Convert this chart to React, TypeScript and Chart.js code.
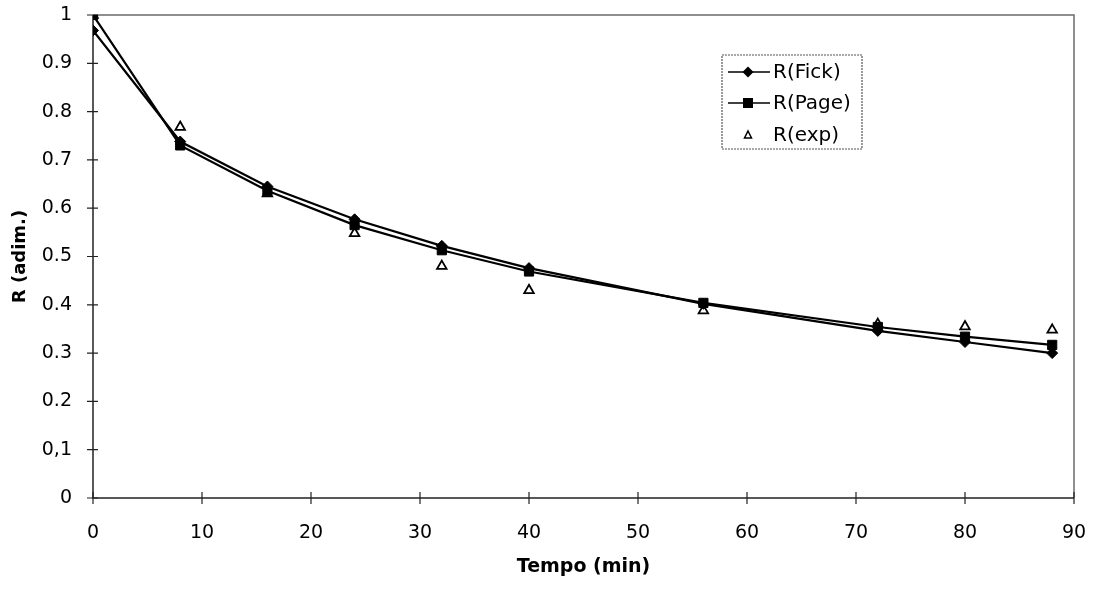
import React, { useEffect, useRef } from 'react';
import { Chart, registerables } from 'chart.js';

Chart.register(...registerables);

// ---- data ----
const timeMin = [0, 8, 16, 24, 32, 40, 56, 72, 80, 88];
const rFick = [0.968, 0.738, 0.645, 0.577, 0.522, 0.476, 0.402, 0.346, 0.323, 0.3];
const rPage = [1.0, 0.73, 0.636, 0.565, 0.513, 0.469, 0.404, 0.354, 0.334, 0.317];
const rExp = [1.0, 0.768, 0.63, 0.548, 0.48, 0.43, 0.388, 0.36, 0.355, 0.348];

const xTickValues = [0, 10, 20, 30, 40, 50, 60, 70, 80, 90];
const yTickValues = [0, 0.1, 0.2, 0.3, 0.4, 0.5, 0.6, 0.7, 0.8, 0.9, 1];
const yTickLabels = ['0', '0,1', '0.2', '0.3', '0.4', '0.5', '0.6', '0.7', '0.8', '0.9', '1'];
const seriesLabels = ['R(Fick)', 'R(Page)', 'R(exp)'];
const xTitle = 'Tempo (min)';
const yTitle = 'R (adim.)';

const FONT = '"DejaVu Sans", "Liberation Sans", sans-serif';

const toPoints = (ys: number[]) => timeMin.map((x, i) => ({ x, y: ys[i] }));

function drawMarker(ctx: CanvasRenderingContext2D, style: string, x: number, y: number) {
  ctx.save();
  ctx.fillStyle = '#000';
  ctx.strokeStyle = '#000';
  ctx.lineWidth = 1.5;
  ctx.beginPath();
  if (style === 'rectRot') {
    ctx.moveTo(x, y - 5.5);
    ctx.lineTo(x + 5.5, y);
    ctx.lineTo(x, y + 5.5);
    ctx.lineTo(x - 5.5, y);
    ctx.closePath();
    ctx.fill();
  } else if (style === 'rect') {
    ctx.rect(x - 5, y - 5, 10, 10);
    ctx.fill();
  } else {
    ctx.moveTo(x, y - 4);
    ctx.lineTo(x + 3.5, y + 3);
    ctx.lineTo(x - 3.5, y + 3);
    ctx.closePath();
    ctx.fillStyle = '#fff';
    ctx.fill();
    ctx.stroke();
  }
  ctx.restore();
}

const framePlugin = {
  id: 'frame',
  beforeDatasetsDraw(chart: any) {
    const { ctx, chartArea } = chart;
    const { left, right, top, bottom } = chartArea;
    const xs = chart.scales.x;
    const ys = chart.scales.y;
    ctx.save();
    // top + right frame (grey)
    ctx.strokeStyle = '#6a6a6a';
    ctx.lineWidth = 1.5;
    ctx.beginPath();
    ctx.moveTo(left, top);
    ctx.lineTo(right, top);
    ctx.lineTo(right, bottom);
    ctx.stroke();
    // axes (dark)
    ctx.strokeStyle = '#222';
    ctx.lineWidth = 1.5;
    ctx.beginPath();
    ctx.moveTo(left, top);
    ctx.lineTo(left, bottom);
    ctx.lineTo(right, bottom);
    ctx.stroke();
    // crossing tick marks
    ctx.lineWidth = 1.2;
    ctx.beginPath();
    yTickValues.forEach((v) => {
      const py = ys.getPixelForValue(v);
      ctx.moveTo(left - 6, py);
      ctx.lineTo(left + 5, py);
    });
    xTickValues.forEach((v) => {
      const px = xs.getPixelForValue(v);
      ctx.moveTo(px, bottom - 6);
      ctx.lineTo(px, bottom + 6);
    });
    ctx.stroke();
    ctx.restore();
  },
  afterDraw(chart: any) {
    const { ctx } = chart;
    const bx = 722, by = 55, bw = 140, bh = 94;
    ctx.save();
    ctx.fillStyle = '#fff';
    ctx.fillRect(bx, by, bw, bh);
    ctx.strokeStyle = '#555';
    ctx.lineWidth = 1.2;
    ctx.setLineDash([2, 1]);
    ctx.strokeRect(bx, by, bw, bh);
    ctx.setLineDash([]);
    const rows = [72, 103, 135];
    const styles = ['rectRot', 'rect', 'triangle'];
    ctx.font = `20px ${FONT}`;
    ctx.textBaseline = 'middle';
    ctx.textAlign = 'left';
    rows.forEach((ry, i) => {
      if (i < 2) {
        ctx.strokeStyle = '#000';
        ctx.lineWidth = 1.5;
        ctx.beginPath();
        ctx.moveTo(728, ry);
        ctx.lineTo(770, ry);
        ctx.stroke();
      }
      drawMarker(ctx, styles[i], 748, ry);
      ctx.fillStyle = '#000';
      ctx.fillText(seriesLabels[i], 773, ry + 1);
    });
    ctx.restore();
  },
};

export default function App() {
  const canvasRef = useRef<HTMLCanvasElement | null>(null);

  useEffect(() => {
    const canvas = canvasRef.current;
    if (!canvas) return;
    const chart = new Chart(canvas, {
      type: 'line',
      data: {
        datasets: [
          {
            label: seriesLabels[0],
            data: toPoints(rFick),
            borderColor: '#000',
            backgroundColor: '#000',
            borderWidth: 2.2,
            pointStyle: 'rectRot',
            pointRadius: 5.5,
            pointBorderWidth: 1,
            tension: 0,
          },
          {
            label: seriesLabels[1],
            data: toPoints(rPage),
            borderColor: '#000',
            backgroundColor: '#000',
            borderWidth: 2.2,
            pointStyle: 'rect',
            pointRadius: 6.5,
            pointBorderWidth: 1,
            tension: 0,
          },
          {
            label: seriesLabels[2],
            data: toPoints(rExp),
            showLine: false,
            borderColor: '#000',
            backgroundColor: '#fff',
            pointStyle: 'triangle',
            pointRadius: 5.5,
            pointBorderWidth: 1.8,
          },
        ],
      },
      options: {
        animation: false,
        responsive: false,
        maintainAspectRatio: false,
        layout: { padding: { left: 10, top: 15, right: 21, bottom: 13 } },
        plugins: {
          legend: { display: false },
          tooltip: { enabled: false },
        },
        scales: {
          x: {
            type: 'linear',
            min: 0,
            max: 90,
            grid: { display: false, drawTicks: false },
            border: { display: false },
            afterBuildTicks: (s: any) => {
              s.ticks = xTickValues.map((v) => ({ value: v }));
            },
            afterFit: (s: any) => {
              s.height = 80;
              s.paddingLeft = 0;
              s.paddingRight = 0;
            },
            ticks: {
              color: '#000',
              padding: 24,
              maxRotation: 0,
              font: { family: FONT, size: 19 },
              callback: (v: any) => String(v),
            },
            title: {
              display: true,
              text: xTitle,
              color: '#000',
              padding: { top: 0, bottom: 0 },
              font: { family: FONT, size: 19, weight: 'bold' },
            },
          },
          y: {
            type: 'linear',
            min: 0,
            max: 1,
            grid: { display: false, drawTicks: false },
            border: { display: false },
            afterBuildTicks: (s: any) => {
              s.ticks = yTickValues.map((v) => ({ value: v }));
            },
            afterFit: (s: any) => {
              s.width = 83;
              s.paddingTop = 0;
              s.paddingBottom = 0;
            },
            ticks: {
              color: '#000',
              padding: 21,
              font: { family: FONT, size: 19 },
              callback: (_v: any, i: number) => yTickLabels[i],
            },
            title: {
              display: true,
              text: yTitle,
              color: '#000',
              padding: { top: 0, bottom: 0 },
              font: { family: FONT, size: 18, weight: 'bold' },
            },
          },
        },
      },
      plugins: [framePlugin],
    } as any);
    return () => chart.destroy();
  }, []);

  return (
    <div style={{ position: 'fixed', left: 0, top: 0, width: 1095, height: 591, background: '#fff' }}>
      <canvas ref={canvasRef} width={1095} height={591} style={{ width: 1095, height: 591 }} />
    </div>
  );
}
